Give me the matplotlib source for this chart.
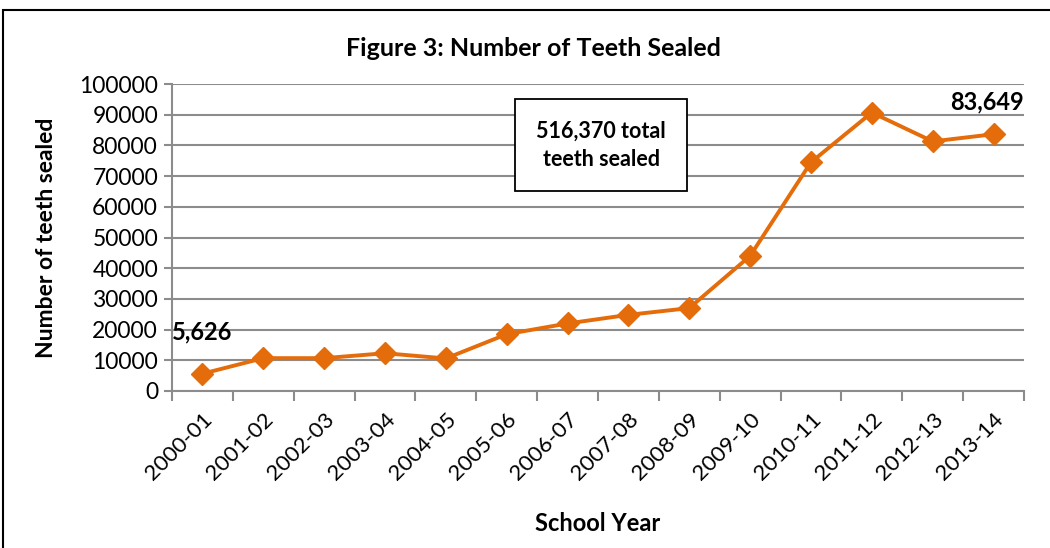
import matplotlib.pyplot as plt
from matplotlib.patches import Rectangle

plt.rcParams['font.family'] = ['Lato', 'DejaVu Sans']

# data
years = ['2000-01', '2001-02', '2002-03', '2003-04', '2004-05', '2005-06', '2006-07',
         '2007-08', '2008-09', '2009-10', '2010-11', '2011-12', '2012-13', '2013-14']
sealed = [5626, 10700, 10700, 12300, 10600, 18500, 22000,
          24800, 27000, 44000, 74500, 90700, 81300, 83649]
y_ticks = list(range(0, 100001, 10000))

orange = '#E46C0A'
grid_col = '#8c8c8c'

fig = plt.figure(figsize=(10.5, 5.48), dpi=100)
# outer frame of the chart
fig.patches.append(Rectangle((0.003, -0.05), 1.2, 1.032, transform=fig.transFigure,
                             fill=False, edgecolor='black', linewidth=1.5))

ax = fig.add_axes([0.1638, 0.2865, 0.8114, 0.5602])
x = list(range(len(years)))
ax.plot(x, sealed, color=orange, linewidth=2.8, marker='D', markersize=11,
        markeredgecolor=orange, zorder=3)

ax.set_xlim(-0.5, len(years) - 0.5)
ax.set_ylim(0, 100000)
ax.set_yticks(y_ticks)
ax.set_yticklabels([str(v) for v in y_ticks], fontsize=16.5)
ax.yaxis.grid(True, color=grid_col, linewidth=1.5)
ax.set_axisbelow(True)

# category ticks sit on the boundaries, labels at the centres
ax.set_xticks([i - 0.5 for i in range(len(years) + 1)])
ax.set_xticklabels([])
ax.set_xticks(x, minor=True)
ax.set_xticklabels(years, minor=True, rotation=45, ha='right', rotation_mode='anchor',
                   fontsize=16)
ax.tick_params(axis='x', which='major', length=7, width=1.5, color=grid_col)
ax.tick_params(axis='x', which='minor', length=0, pad=13)
ax.tick_params(axis='y', length=6, width=1.5, color=grid_col, pad=4)

for s in ['top', 'right']:
    ax.spines[s].set_visible(False)
for s in ['left', 'bottom']:
    ax.spines[s].set_color(grid_col)
    ax.spines[s].set_linewidth(1.5)

ax.set_xlabel('School Year', fontsize=17, fontweight='bold', labelpad=20)
ax.set_ylabel('Number of teeth sealed', fontsize=16.5, fontweight='bold', labelpad=16)
fig.text(0.508, 0.912, 'Figure 3: Number of Teeth Sealed', ha='center', va='center',
         fontsize=18, fontweight='bold')

# data labels for first and last values
ax.annotate(f'{sealed[0]:,}', (x[0], sealed[0]), xytext=(0, 22), textcoords='offset points',
            ha='center', va='bottom', fontsize=17, fontweight='bold')
ax.annotate(f'{sealed[-1]:,}', (x[-1], sealed[-1]), xytext=(-5, 15), textcoords='offset points',
            ha='center', va='bottom', fontsize=17, fontweight='bold')

ax.text(6.55, 80000, f'{sum(sealed) - 5:,} total\nteeth sealed', ha='center', va='center',
        fontsize=15.5, fontweight='bold', linespacing=1.4,
        bbox=dict(boxstyle='square,pad=1.0', facecolor='white', edgecolor='black', linewidth=1.3))

fig.savefig('out.png', dpi=100)
